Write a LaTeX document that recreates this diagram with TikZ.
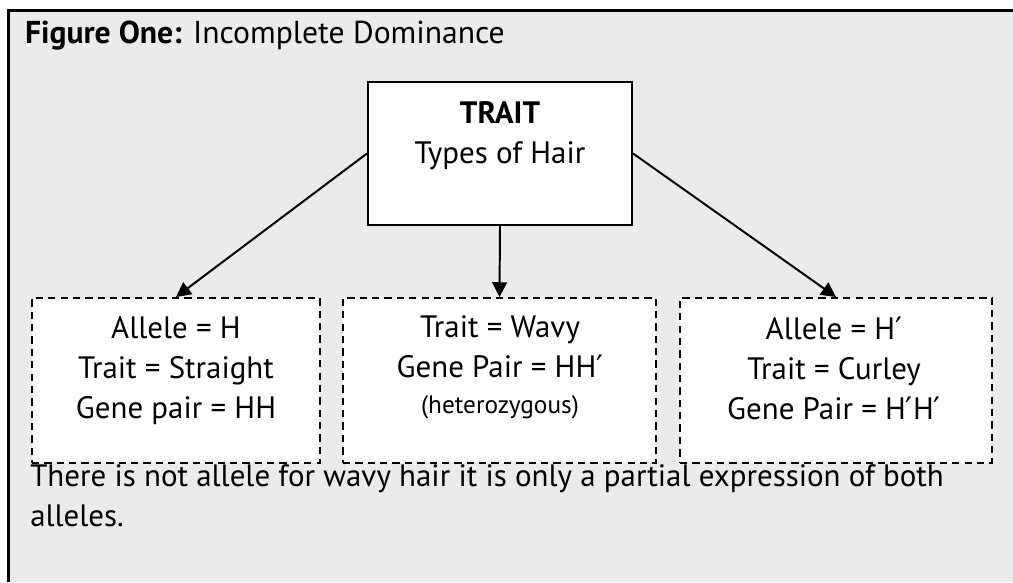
\documentclass[tikz,border=0pt]{standalone}
\usepackage{fontspec}
\setmainfont{PT Sans}
\newfontfamily\primefont{DejaVu Sans}
\newcommand{\prm}{{\primefont ′}}
\usetikzlibrary{arrows.meta,positioning}
\definecolor{panelgray}{HTML}{EBEBEB}

\begin{document}
\begin{tikzpicture}[
    >={Triangle[length=10.5pt, width=10.5pt]},
    bodyfont/.style={font=\fontsize{22}{28.45}\selectfont},
    figtitle/.style={font=\fontsize{22.5}{25}\selectfont, anchor=base west, inner sep=0pt},
    traitbox/.style={draw, line width=1.5pt, fill=white, minimum width=6.6cm, minimum height=3.575cm, inner sep=0pt},
    allelebox/.style={draw, line width=1.4pt, dash pattern=on 5.2pt off 3.6pt, fill=white, minimum height=4.125cm, inner sep=0pt},
    boxtext/.style={bodyfont, align=center, inner sep=0pt},
    note/.style={bodyfont, align=left, anchor=north west, inner sep=0pt},
    arrow/.style={->, line width=1.4pt},
]
    \useasboundingbox (0,0) rectangle (25.325,-14.55);

    % Panel
    \fill[panelgray] (0.22,-0.26) rectangle (25.325,-14.55);
    \draw[line width=2.1pt] (0.22,-14.55) -- (0.22,-0.26) -- (25.325,-0.26);

    \node[figtitle] (title) at (0.62,-1.083) {\textbf{Figure One:} Incomplete Dominance};

    % Trait
    \node[traitbox] (trait) at (12.5,-3.8375) {};
    \node[boxtext] (traittxt) at (12.5,-3.4) {\textbf{TRAIT}\\Types of Hair};

    % Alleles
    \node[allelebox, minimum width=7.2cm] (hbox) at (4.4,-9.5125) {};
    \node[allelebox, minimum width=7.825cm] (hhbox) at (12.4875,-9.5125) {};
    \node[allelebox, minimum width=7.8cm] (hpbox) at (20.9,-9.5125) {};

    \node[boxtext] (htxt) at (4.4,-9.275) {Allele = H\\Trait = Straight\\Gene pair = HH};
    \node[boxtext] (hhtxt) at (12.5,-9.18) {Trait = Wavy\\Gene Pair = HH\prm\\[-3pt]{\fontsize{18}{20}\selectfont (heterozygous)}};
    \node[boxtext] (hptxt) at (20.85,-9.2) {Allele = H\prm\\Trait = Curley\\Gene Pair = H\prm H\prm};

    % Arrows
    \draw[arrow] (trait.west) -- (hbox.north);
    \draw[arrow] (trait.south) -- (hhbox.north);
    \draw[arrow] (trait.east) -- (hpbox.north);

    % Note
    \node[note] (summary) at (0.75,-11.62) {There is not allele for wavy hair it is only a partial expression of both\\alleles.};

\end{tikzpicture}
\end{document}
